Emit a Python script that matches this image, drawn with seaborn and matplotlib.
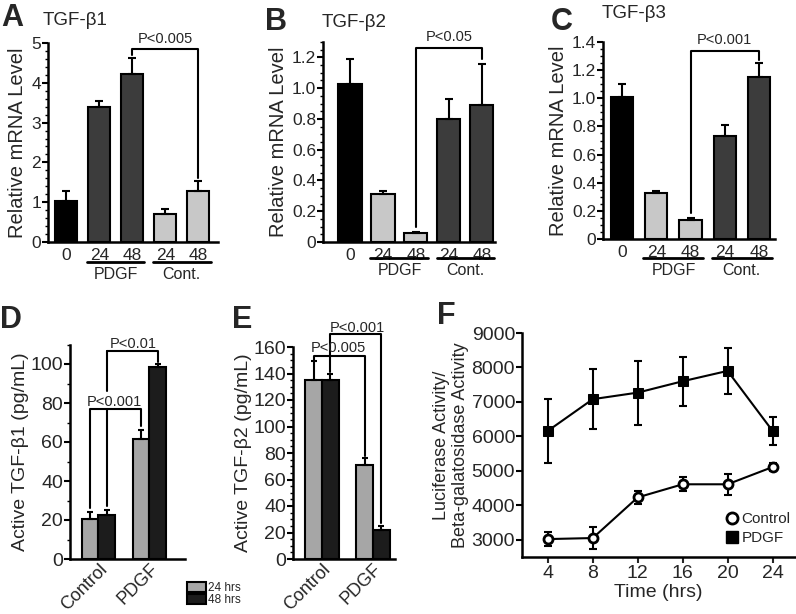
import numpy as np
import pandas as pd
import seaborn as sns
import matplotlib.pyplot as plt
from matplotlib.ticker import MultipleLocator
from matplotlib.lines import Line2D

# ---- data -------------------------------------------------------------
# A-C: relative mRNA level (0 h, PDGF 24/48 h, control 24/48 h)
mrna_groups = ['0', 'PDGF 24', 'PDGF 48', 'Cont 24', 'Cont 48']
mrna_ticks = ['0', '24', '48', '24', '48']
b1_mean = [1.04, 3.38, 4.21, 0.70, 1.27]
b1_err = [0.24, 0.17, 0.41, 0.12, 0.26]
b2_mean = [1.03, 0.31, 0.06, 0.80, 0.89]
b2_err = [0.16, 0.02, 0.006, 0.13, 0.27]
b3_mean = [1.01, 0.33, 0.14, 0.73, 1.15]
b3_err = [0.09, 0.012, 0.012, 0.08, 0.10]

# D-E: active TGF-beta protein
treatments = ['Control', 'PDGF']
times = ['24 hrs', '48 hrs']
d_mean = [20.5, 22.4, 61.5, 98.5]   # Control24, Control48, PDGF24, PDGF48
d_err = [3.8, 2.7, 4.5, 1.5]
e_mean = [135, 135, 71, 22]
e_err = [14.7, 5, 5, 3]

# F: luciferase reporter
hours = [4, 8, 12, 16, 20, 24]
ctrl_mean = [3020, 3050, 4230, 4610, 4610, 5110]
ctrl_err = [200, 310, 190, 200, 300, 120]
pdgf_mean = [6160, 7080, 7270, 7600, 7900, 6160]
pdgf_err = [930, 870, 930, 710, 660, 400]

BLACK = '#000000'
DARK = '#3c3c3c'
LIGHT = '#c8c8c8'
GREY2 = '#a6a6a6'
BLACK2 = '#1c1c1c'

sns.set_theme(style='ticks')
plt.rcParams['font.family'] = ['Liberation Sans', 'DejaVu Sans']

W, H = 796, 614
fig = plt.figure(figsize=(W / 100, H / 100), dpi=100)


def rect(l, t, r, b):
    return [l / W, 1 - b / H, (r - l) / W, (b - t) / H]


def style_axis(ax, tick_size):
    sns.despine(ax=ax)
    for s in ['left', 'bottom']:
        ax.spines[s].set_linewidth(1.8)
        ax.spines[s].set_color('black')
    ax.tick_params(axis='y', which='major', direction='out', length=4, width=1.5,
                   labelsize=tick_size, pad=1, color='black')
    ax.tick_params(axis='y', which='minor', direction='out', length=2, width=1, color='black')
    ax.set_xlabel('')


def bracket(ax, x1, x2, y, y1, y2, text, ty, tx=None, size=10.5):
    ax.plot([x1, x1, x2, x2], [y1, y, y, y2], color='black', lw=1.5, clip_on=False)
    if tx is None:
        tx = (x1 + x2) / 2
    ax.text(tx, ty, text, ha='center', va='center', fontsize=size)


def mrna_panel(rc, means, errs, colors, width, ymax, major, minor, under_y, xlim):
    ax = fig.add_axes(rect(*rc))
    sns.barplot(x=mrna_groups, y=means, hue=mrna_groups,
                palette=dict(zip(mrna_groups, colors)), legend=False,
                width=width, edgecolor='black', linewidth=1.5, errorbar=None, ax=ax)
    ax.errorbar(range(5), means, yerr=[np.zeros(5), errs], fmt='none',
                ecolor='black', elinewidth=1.5, capsize=3, capthick=1.5)
    ax.set_ylim(0, ymax)
    ax.set_xlim(*xlim)
    ax.yaxis.set_major_locator(MultipleLocator(major))
    ax.yaxis.set_minor_locator(MultipleLocator(minor))
    ax.set_xticks(range(5))
    ax.set_xticklabels(mrna_ticks)
    ax.tick_params(axis='x', length=0, labelsize=12.5, pad=4)
    style_axis(ax, 12.5)
    ax.set_ylabel('Relative mRNA Level', fontsize=14.5, labelpad=3)
    tr = ax.get_xaxis_transform()
    ax.plot([0.62, 2.36], [under_y, under_y], transform=tr, clip_on=False, color='black', lw=2)
    ax.plot([2.64, 4.38], [under_y, under_y], transform=tr, clip_on=False, color='black', lw=2)
    ax.text(1.5, under_y - 0.025, 'PDGF', transform=tr, ha='center', va='top', fontsize=11.5)
    ax.text(3.5, under_y - 0.025, 'Cont.', transform=tr, ha='center', va='top', fontsize=11.5)
    return ax


# ---- A ---------------------------------------------------------------
axA = mrna_panel((48, 43, 218, 242), b1_mean, b1_err, [BLACK, DARK, DARK, LIGHT, LIGHT],
                 0.67, 5, 1, 0.2, -0.1, (-0.56, 4.6))
axA.yaxis.set_major_formatter(lambda v, p: f'{v:.0f}')
bracket(axA, 2, 4, 4.84, 4.7, 1.62, 'P<0.005', 5.1)

# ---- B ---------------------------------------------------------------
axB = mrna_panel((323, 42, 495, 242), b2_mean, b2_err, [BLACK, LIGHT, LIGHT, DARK, DARK],
                 0.7, 1.3, 0.2, 0.05, -0.08, (-0.82, 4.4))
axB.yaxis.set_major_formatter(lambda v, p: '0' if v == 0 else f'{v:.1f}')
bracket(axB, 2, 4, 1.26, 0.1, 1.19, 'P<0.05', 1.33)

# ---- C ---------------------------------------------------------------
axC = mrna_panel((603, 41.7, 775, 239.3), b3_mean, b3_err, [BLACK, LIGHT, LIGHT, DARK, DARK],
                 0.65, 1.4, 0.2, 0.05, -0.096, (-0.56, 4.47))
axC.yaxis.set_major_formatter(lambda v, p: '0' if v == 0 else f'{v:.1f}')
bracket(axC, 2, 4, 1.337, 0.185, 1.27, 'P<0.001', 1.41)


# ---- D / E -------------------------------------------------------------
def protein_panel(rc, means, errs, ymax, major, minor, xlim, ylabel):
    ax = fig.add_axes(rect(*rc))
    df = pd.DataFrame({'treatment': np.repeat(treatments, 2),
                       'time': times * 2,
                       'value': means})
    sns.barplot(data=df, x='treatment', y='value', hue='time',
                palette=[GREY2, BLACK2], width=0.65, edgecolor='black',
                linewidth=1.5, errorbar=None, ax=ax)
    bars = sorted([p for p in ax.patches if p.get_height() > 0], key=lambda p: p.get_x())
    xs = [p.get_x() + p.get_width() / 2 for p in bars]
    ax.errorbar(xs, means, yerr=[np.zeros(4), errs], fmt='none',
                ecolor='black', elinewidth=1.5, capsize=2.5, capthick=1.5)
    handles, labels = ax.get_legend_handles_labels()
    ax.get_legend().remove()
    ax.set_ylim(0, ymax)
    ax.set_xlim(*xlim)
    ax.yaxis.set_major_locator(MultipleLocator(major))
    ax.yaxis.set_minor_locator(MultipleLocator(minor))
    style_axis(ax, 14)
    ax.tick_params(axis='x', length=0, labelsize=13, pad=1)
    for lab in ax.get_xticklabels():
        lab.set_rotation(45)
        lab.set_ha('right')
        lab.set_va('top')
        lab.set_rotation_mode('anchor')
    ax.set_ylabel(ylabel, fontsize=14, labelpad=1)
    return ax, xs, handles, labels


axD, xd, handles, labels = protein_panel((70, 344.5, 185, 559), d_mean, d_err, 110, 20, 10,
                                         (-0.56, 1.7), 'Active TGF-β1 (pg/mL)')
axD.plot([xd[1], xd[1]], [106.7, 86], color='black', lw=1.5, clip_on=False)
axD.plot([xd[1], xd[1]], [77, 27], color='black', lw=1.5, clip_on=False)
axD.plot([xd[1], xd[3], xd[3]], [106.7, 106.7, 101], color='black', lw=1.5, clip_on=False)
axD.text(0.68, 110.5, 'P<0.01', ha='center', va='center', fontsize=10.5)
bracket(axD, xd[0], xd[2], 77, 26, 68, 'P<0.001', 80.7, tx=0.32)

axE, xe, _, _ = protein_panel((293, 347, 395, 559), e_mean, e_err, 160, 20, 5,
                              (-0.57, 1.43), 'Active TGF-β2 (pg/mL)')
bracket(axE, xe[0], xe[2], 153, 150, 78, 'P<0.005', 159.5, tx=0.31)
bracket(axE, xe[1], xe[3], 169.5, 141, 27, 'P<0.001', 174.5, tx=0.70)

fig.legend(handles, labels, loc='lower left', bbox_to_anchor=(181 / W, 1 - 612 / H),
           frameon=False, fontsize=8.5, handlelength=1.6, handleheight=0.8,
           labelspacing=0.0, borderpad=0, handletextpad=0.2)

# ---- F ---------------------------------------------------------------
axF = fig.add_axes(rect(522, 333, 795, 557))
axF.errorbar(hours, pdgf_mean, yerr=pdgf_err, fmt='none', ecolor='black',
             elinewidth=1.5, capsize=3, capthick=1.5, zorder=1)
axF.errorbar(hours, ctrl_mean, yerr=ctrl_err, fmt='none', ecolor='black',
             elinewidth=1.5, capsize=3, capthick=1.5, zorder=1)
sns.lineplot(x=hours, y=pdgf_mean, color='black', lw=1.5, marker='s', markersize=7,
             markerfacecolor='black', markeredgecolor='black', ax=axF, zorder=3)
sns.lineplot(x=hours, y=ctrl_mean, color='black', lw=1.5, marker='o', markersize=6.5,
             markerfacecolor='white', markeredgecolor='black', markeredgewidth=2,
             ax=axF, zorder=3)
axF.set_xlim(1.7, 26)
axF.set_ylim(2500, 9000)
axF.set_xticks(hours)
axF.set_yticks(range(3000, 9001, 1000))
style_axis(axF, 14)
axF.tick_params(axis='x', direction='out', length=4, width=1.5, labelsize=14, pad=2)
axF.set_xlabel('Time (hrs)', fontsize=14, labelpad=1)
axF.set_ylabel('Luciferase Activity/\nBeta-galatosidase Activity', fontsize=13,
               labelpad=2, linespacing=1.1)
leg_handles = [
    Line2D([], [], ls='none', marker='o', markersize=8, markerfacecolor='white',
           markeredgecolor='black', markeredgewidth=2),
    Line2D([], [], ls='none', marker='s', markersize=8, markerfacecolor='black',
           markeredgecolor='black'),
]
axF.legend(leg_handles, ['Control', 'PDGF'], loc='lower left', bbox_to_anchor=(0.72, 0.02),
           frameon=False, fontsize=11, handlelength=0.8, handletextpad=0.2,
           labelspacing=0.3, borderpad=0)

# ---- titles and panel letters -----------------------------------------
for letter, x, y in [('A', 1, 3), ('B', 265, 7), ('C', 551, 7),
                     ('D', 0, 305), ('E', 232, 305), ('F', 437, 301)]:
    fig.text(x / W, 1 - y / H, letter, fontsize=22, fontweight='bold', va='top', ha='left')
for title, x, y in [('TGF-β1', 43, 12), ('TGF-β2', 322, 14), ('TGF-β3', 602, 5)]:
    fig.text(x / W, 1 - y / H, title, fontsize=13.5, va='top', ha='left')

fig.savefig('out.png', dpi=100)
